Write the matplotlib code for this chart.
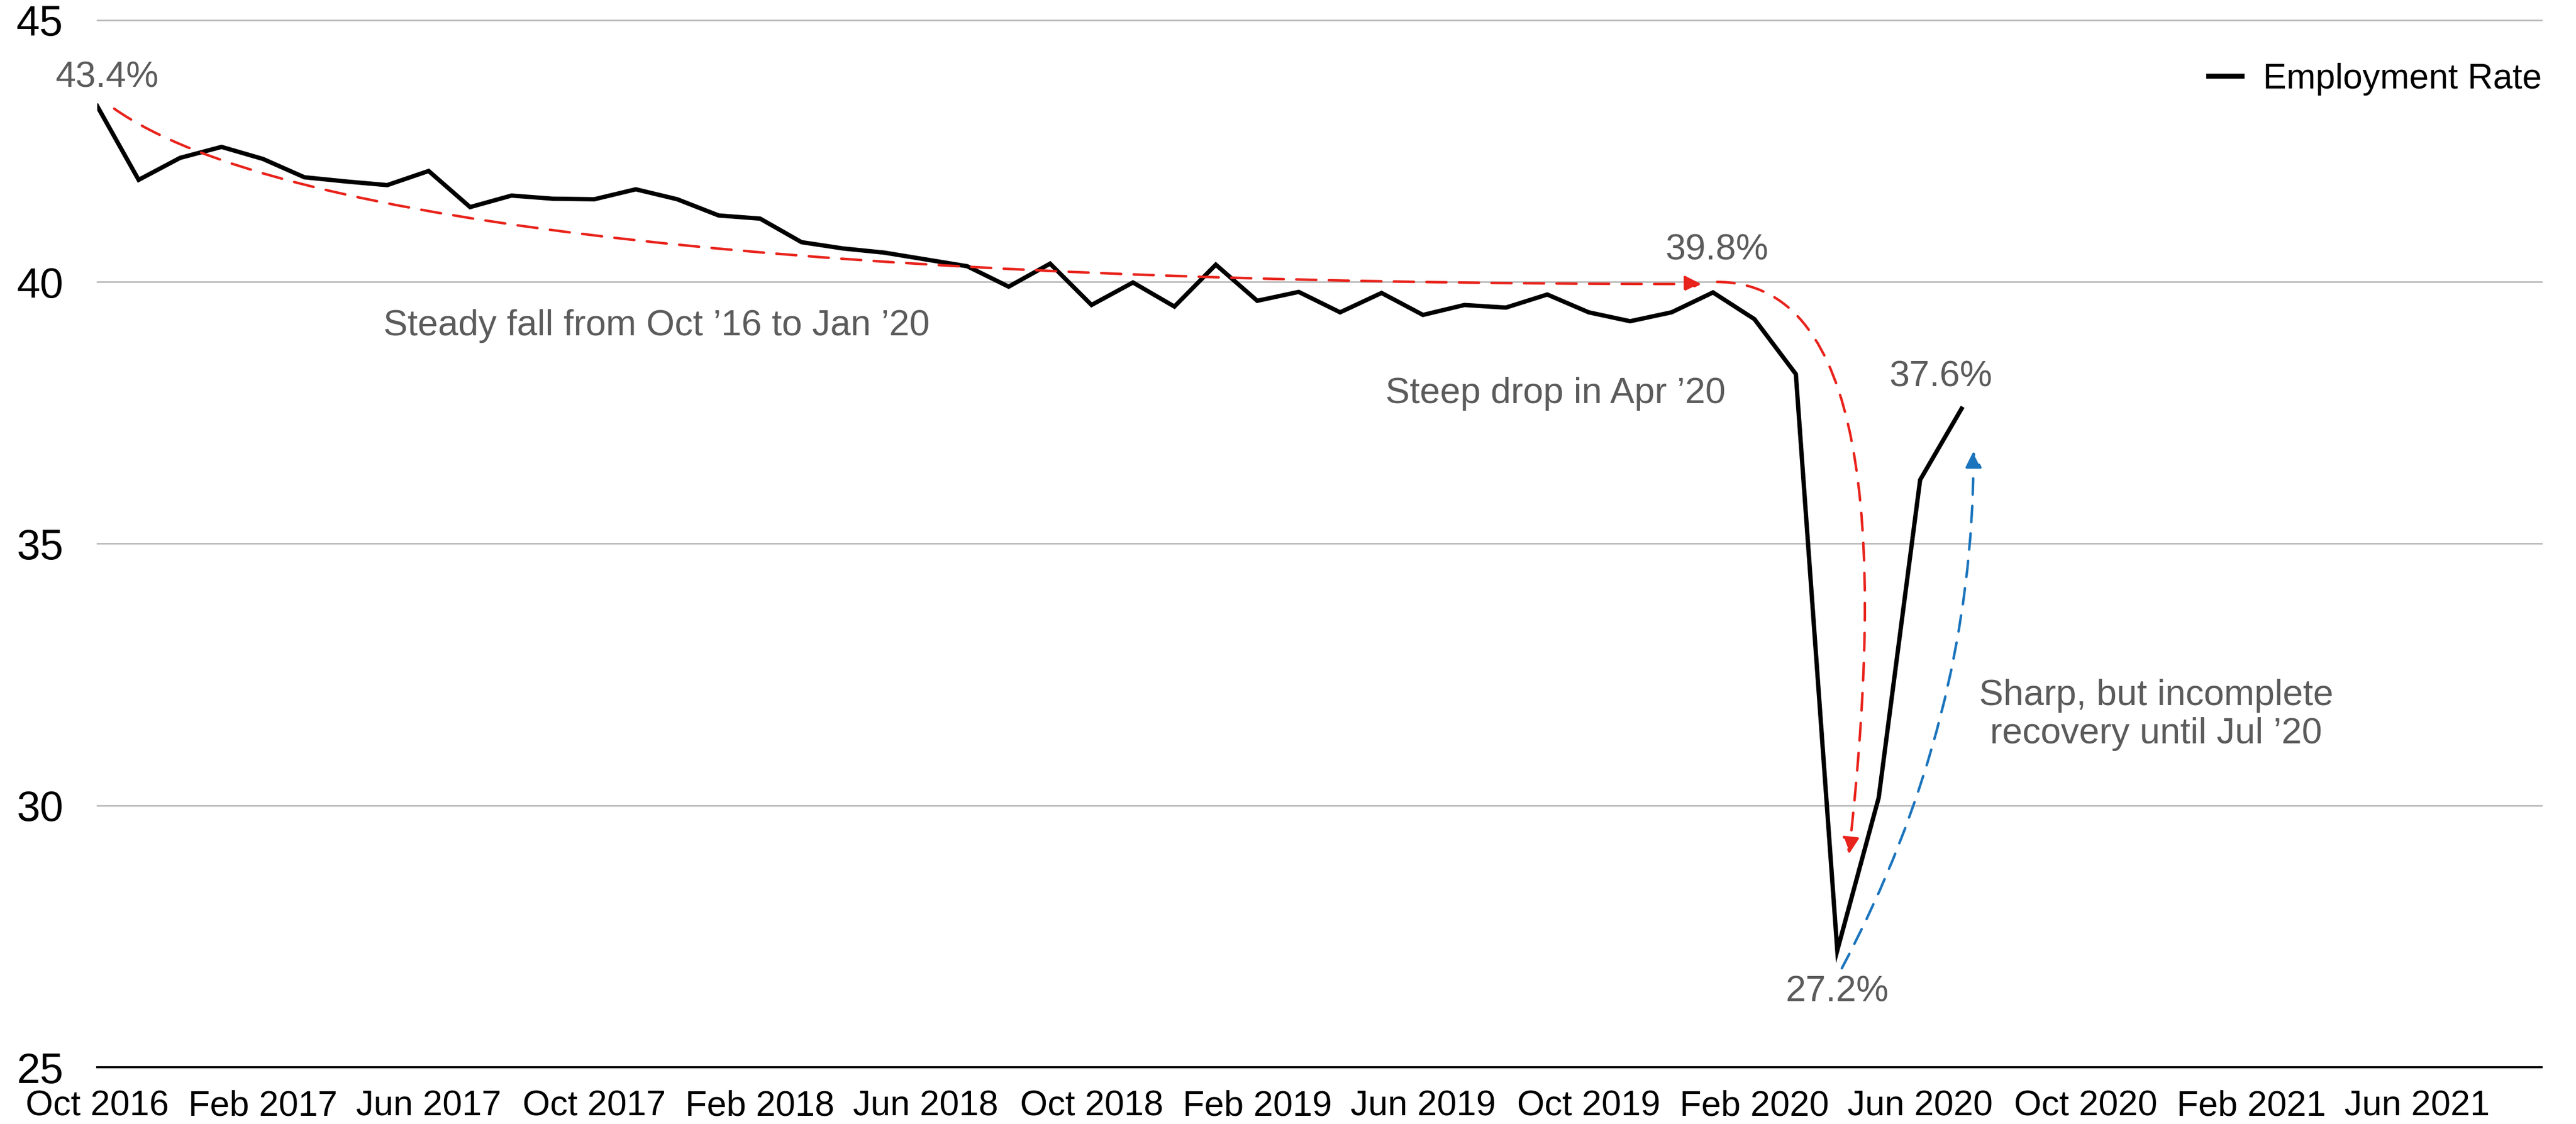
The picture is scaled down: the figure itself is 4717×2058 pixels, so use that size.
import numpy as np
import matplotlib
matplotlib.use("Agg")
import matplotlib.pyplot as plt
from matplotlib.patches import FancyArrowPatch
from matplotlib.lines import Line2D

# ---------------- data ----------------
# monthly employment rate, Oct 2016 .. Jul 2020
rates = [43.36, 41.95, 42.37, 42.58, 42.35, 42.00, 41.92, 41.85, 42.12, 41.43,
         41.65, 41.59, 41.58, 41.77, 41.58, 41.27, 41.21, 40.76, 40.64, 40.56,
         40.43, 40.30, 39.91, 40.35, 39.56, 39.99, 39.53, 40.33, 39.64, 39.81,
         39.42, 39.79, 39.37, 39.56, 39.51, 39.76, 39.42, 39.25, 39.42, 39.80,
         39.29, 38.24, 27.23, 30.15, 36.22, 37.58]
series_name = "Employment Rate"
n_months_axis = 60  # Oct 2016 .. Sep 2021
tick_labels = ["Oct 2016", "Feb 2017", "Jun 2017", "Oct 2017", "Feb 2018",
               "Jun 2018", "Oct 2018", "Feb 2019", "Jun 2019", "Oct 2019",
               "Feb 2020", "Jun 2020", "Oct 2020", "Feb 2021", "Jun 2021"]
y_ticks = [25, 30, 35, 40, 45]

# ---------------- style ----------------
plt.rcParams['font.family'] = ['Liberation Sans', 'DejaVu Sans']
GRAY_TXT = '#5b5b5b'
RED = '#e8231b'
BLUE = '#1a74bd'

W, H, DPI = 4717, 2058, 300
fig = plt.figure(figsize=(W / DPI, H / DPI), dpi=DPI)
ax = fig.add_axes([178 / W, (H - 1954) / H, (4654 - 178) / W, (1954 - 37) / H])

x = np.arange(len(rates))
ax.plot(x, rates, color='black', lw=1.9, solid_joinstyle='miter', zorder=3)

ax.set_xlim(0, n_months_axis - 1)
ax.set_ylim(y_ticks[0], y_ticks[-1])
ax.set_xticks(np.arange(0, 4 * len(tick_labels), 4))
ax.set_xticklabels(tick_labels)
ax.set_yticks(y_ticks)

ax.yaxis.grid(True, color='#bcbcbc', lw=0.7)
for gl in ax.get_ygridlines():
    gl.set_clip_on(False)
ax.set_axisbelow(True)
for s in ['top', 'left', 'right']:
    ax.spines[s].set_visible(False)
ax.spines['bottom'].set_color('black')
ax.spines['bottom'].set_linewidth(0.9)
ax.tick_params(axis='x', length=0, labelsize=15.5, pad=10, colors='black')
ax.tick_params(axis='y', length=0, labelsize=18.5, pad=15, colors='black')

# ---------------- annotations ----------------
txt_kw = dict(color=GRAY_TXT, fontsize=16, ha='center', va='center')
ax.text(0.24, 43.9, "43.4%", clip_on=False, **txt_kw)
ax.text(39.1, 40.6, "39.8%", **txt_kw)
ax.text(44.5, 38.18, "37.6%", **txt_kw)
ax.text(42.0, 26.43, "27.2%", **txt_kw)
ax.text(13.5, 39.16, "Steady fall from Oct \u201916 to Jan \u201920", **txt_kw)
ax.text(35.2, 37.86, "Steep drop in Apr \u201920", **txt_kw)
ax.text(49.7, 31.73, "Sharp, but incomplete\nrecovery until Jul \u201920",
        linespacing=1.15, **txt_kw)

head = "-|>,head_length=6,head_width=3"
arrows = [
    ((0.41, 43.31), (38.72, 39.96), "angle3,angleA=-35,angleB=0", RED, (0, (8, 5))),
    ((39.1, 40.0), (42.28, 29.07), "angle3,angleA=0,angleB=83.6", RED, (0, (7, 5))),
    ((42.11, 26.89), (45.29, 36.77), "angle3,angleA=62,angleB=90", BLUE, (0, (6.5, 4.5))),
]
for pa, pb, cs, col, ls in arrows:
    arr = FancyArrowPatch(pa, pb, connectionstyle=cs, arrowstyle=head,
                          mutation_scale=1, shrinkA=0, shrinkB=0,
                          color=col, lw=1.1, linestyle=ls,
                          transform=ax.transData, zorder=4, clip_on=False)
    ax.add_patch(arr)

# ---------------- legend ----------------
ax.legend(handles=[Line2D([], [], color='black', lw=2.2)], labels=[series_name],
          loc='center right', bbox_to_anchor=(1.0, 0.9437), frameon=False,
          fontsize=15.4, handlelength=0.95, handletextpad=0.6,
          borderpad=0, borderaxespad=0)

fig.savefig("out.png", dpi=DPI)
